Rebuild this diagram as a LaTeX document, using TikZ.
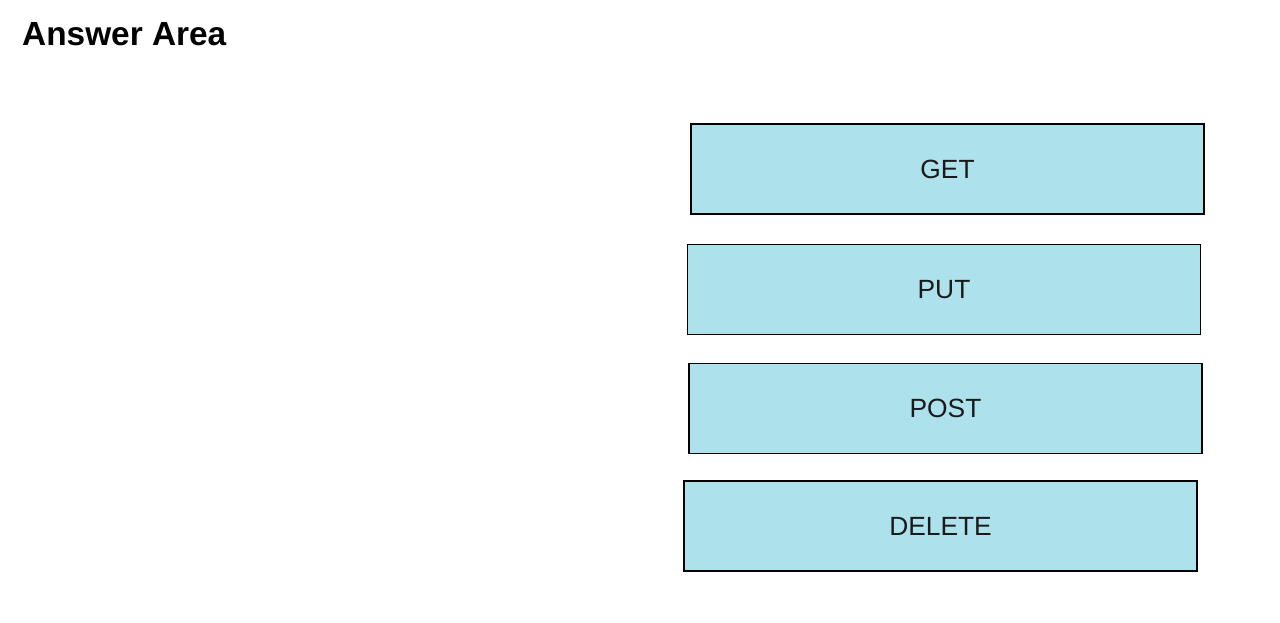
\documentclass[tikz,border=0pt]{standalone}
\usepackage{xcolor}
\usepackage{fontspec}
\setmainfont{Liberation Sans}
\usepackage{tikz}
\usetikzlibrary{positioning}

\definecolor{boxblue}{HTML}{ADE2ED}
\definecolor{textdark}{HTML}{1A1A1A}

\begin{document}
\begin{tikzpicture}[x=0.02cm, y=-0.02cm,
        method/.style={draw=black, fill=boxblue, line width=0.85pt, minimum width=10.26cm, minimum height=1.8cm, inner sep=0pt, font=\fontsize{15}{18}\selectfont, text=textdark}]
        \useasboundingbox (0,0) rectangle (1280,622);
        \node (title) [anchor=base west, font=\fontsize{19}{22}\bfseries\selectfont] at (16,45) {Answer Area};

        \node (get) [method] at (947.5,169) {GET};
        \node (put) [method] at (944,289.5) {PUT};
        \node (post) [method] at (945.5,408.5) {POST};
        \node (delete) [method] at (940.5,526) {DELETE};
    \end{tikzpicture}
\end{document}
